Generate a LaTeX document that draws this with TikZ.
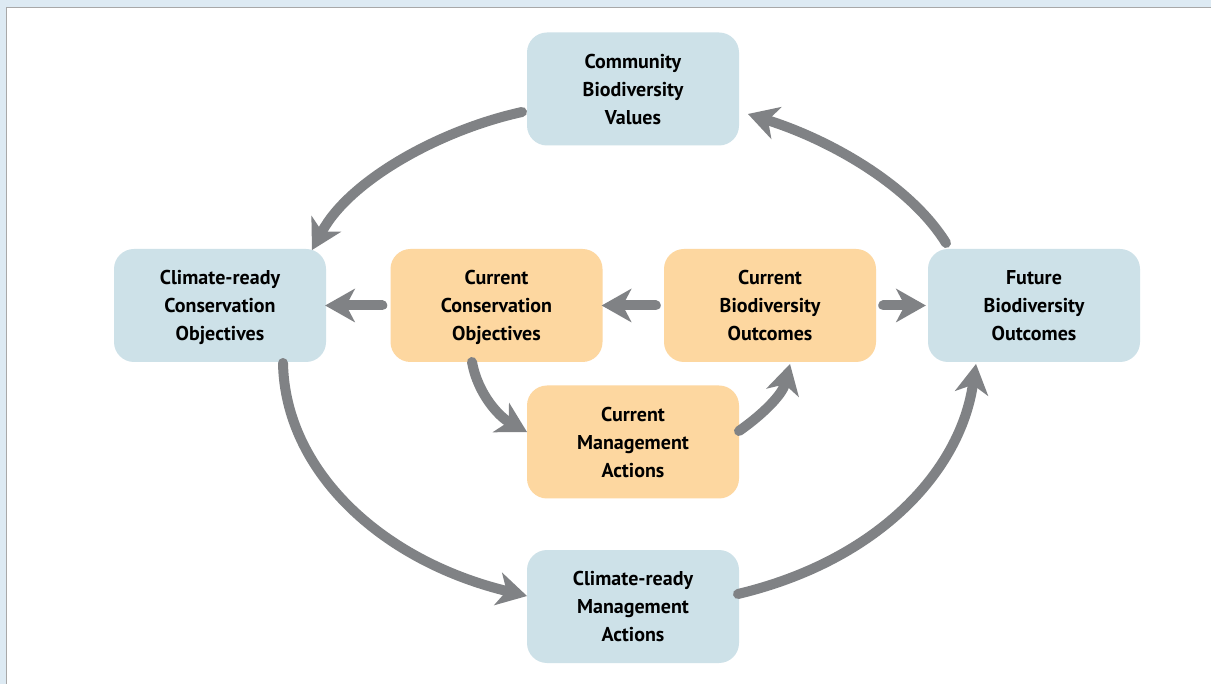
\documentclass[tikz,border=0pt]{standalone}
\usepackage{fontspec}
\setmainfont{PT Sans}
\usetikzlibrary{arrows.meta}
\definecolor{boxblue}{HTML}{CDE1E8}
\definecolor{boxorange}{HTML}{FDD7A0}
\definecolor{arrowgray}{HTML}{808285}
\definecolor{framebg}{HTML}{DDEAF3}
\definecolor{frameline}{HTML}{A8A8A8}
\tikzset{
  box/.style={rounded corners=20pt, minimum width=212pt, minimum height=113pt,
    align=center, font=\fontsize{20}{28}\selectfont\bfseries, inner sep=0pt,
    text depth=0pt},
  bluebox/.style={box, fill=boxblue},
  orangebox/.style={box, fill=boxorange},
  flow/.style={draw=arrowgray, line width=10pt, line cap=round,
    -{Stealth[length=30pt 0,width=34pt 0,inset=9pt 0,round=false,line width=0pt]}},
}
\begin{document}
\begin{tikzpicture}[x=1pt,y=-1pt]
\useasboundingbox (0,0) rectangle (1211,684);
\fill[framebg] (0,0) rectangle (1211,684);
\fill[white] (7,8) rectangle (1211,684);
\draw[frameline, line width=1.2pt] (6.5,684) -- (6.5,7.5) -- (1211,7.5);

\node[bluebox] (cbv) at (633,89) {Community\\Biodiversity\\Values};
\node[bluebox] (cco) at (220,305.5) {Climate-ready\\Conservation\\Objectives};
\node[orangebox] (uco) at (496.5,305.5) {Current\\Conservation\\Objectives};
\node[orangebox] (ubo) at (770,305.5) {Current\\Biodiversity\\Outcomes};
\node[bluebox] (fbo) at (1034,305.5) {Future\\Biodiversity\\Outcomes};
\node[orangebox] (uma) at (633,442) {Current\\Management\\Actions};
\node[bluebox] (cma) at (633,606.5) {Climate-ready\\Management\\Actions};

\coordinate (a1s) at (522,112);  \coordinate (a1e) at (312,250);
\coordinate (a5s) at (946,243);  \coordinate (a5e) at (748,114);
\coordinate (a6s) at (283,363);  \coordinate (a6e) at (527,596);
\coordinate (a7s) at (738,594);  \coordinate (a7e) at (976,364);
\coordinate (a8s) at (472,362);  \coordinate (a8e) at (527,432);
\coordinate (a9s) at (739,431);  \coordinate (a9e) at (790,364);

\draw[flow] (a1s) .. controls (440,130) and (350,180) .. (a1e);
\draw[flow] (a5s) .. controls (910,185) and (830,140) .. (a5e);
\draw[flow] (a6s) .. controls (285,470) and (380,560) .. (a6e);
\draw[flow] (a7s) .. controls (880,560) and (960,470) .. (a7e);
\draw[flow] (a8s) .. controls (478,395) and (500,417) .. (a8e);
\draw[flow] (a9s) .. controls (762,415) and (782,395) .. (a9e);

\draw[flow] ([xshift=-8pt]uco.west) -- ([xshift=-1pt]cco.east);
\draw[flow] ([xshift=-8pt]ubo.west) -- ([xshift=-1pt]uco.east);
\draw[flow] ([xshift=7pt]ubo.east) -- ([xshift=-2pt]fbo.west);
\end{tikzpicture}
\end{document}
